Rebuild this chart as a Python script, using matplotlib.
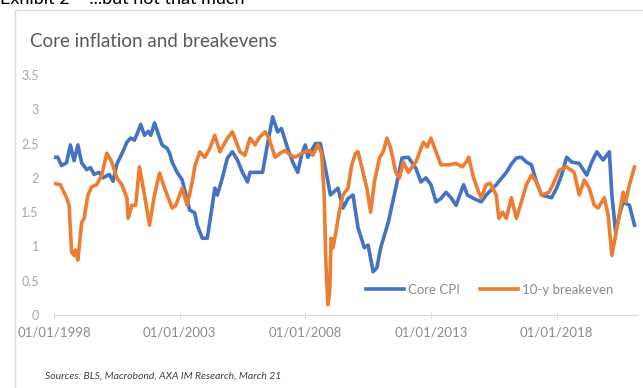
import matplotlib.pyplot as plt
from matplotlib.patches import Rectangle

plt.rcParams['font.family'] = ['Lato', 'DejaVu Sans']

# core CPI (decimal year, % y/y)
cpi_t = [1998.0, 1998.15, 1998.3, 1998.5, 1998.65, 1998.8, 1998.95, 1999.1, 1999.3, 1999.45,
         1999.6, 1999.8, 1999.95, 2000.2, 2000.35, 2000.5, 2000.7, 2000.9, 2001.05, 2001.2,
         2001.35, 2001.45, 2001.6, 2001.75, 2001.85, 2002.0, 2002.3, 2002.5, 2002.6, 2002.7,
         2002.9, 2003.1, 2003.25, 2003.4, 2003.6, 2003.7, 2003.9, 2004.1, 2004.3, 2004.4,
         2004.5, 2004.7, 2004.9, 2005.1, 2005.3, 2005.5, 2005.7, 2005.8, 2006.0, 2006.3,
         2006.5, 2006.7, 2006.9, 2007.05, 2007.3, 2007.5, 2007.7, 2007.85, 2008.0, 2008.1,
         2008.4, 2008.6, 2008.8, 2009.0, 2009.3, 2009.5, 2009.7, 2009.9, 2010.1, 2010.35,
         2010.5, 2010.7, 2010.85, 2011.0, 2011.3, 2011.6, 2011.85, 2012.1, 2012.4, 2012.6,
         2012.8, 2013.0, 2013.2, 2013.4, 2013.6, 2013.8, 2014.0, 2014.3, 2014.45, 2014.7,
         2015.0, 2015.2, 2015.6, 2016.0, 2016.2, 2016.4, 2016.6, 2016.8, 2017.0, 2017.2,
         2017.4, 2017.8, 2018.0, 2018.2, 2018.4, 2018.6, 2018.9, 2019.2, 2019.4, 2019.6,
         2019.85, 2020.1, 2020.2, 2020.35, 2020.5, 2020.65, 2020.9, 2021.1]
cpi_v = [2.30, 2.30, 2.18, 2.22, 2.48, 2.25, 2.48, 2.22, 2.12, 2.15,
         2.05, 2.08, 2.00, 2.05, 1.95, 2.20, 2.35, 2.52, 2.58, 2.55,
         2.68, 2.78, 2.62, 2.68, 2.62, 2.80, 2.48, 2.43, 2.36, 2.23,
         2.08, 1.97, 1.75, 1.53, 1.49, 1.31, 1.12, 1.12, 1.60, 1.85,
         1.75, 2.00, 2.29, 2.38, 2.26, 2.08, 1.94, 2.08, 2.08, 2.08,
         2.50, 2.89, 2.67, 2.72, 2.43, 2.23, 2.08, 2.33, 2.48, 2.30,
         2.50, 2.50, 2.14, 1.75, 1.85, 1.56, 1.70, 1.75, 1.27, 0.98,
         1.02, 0.63, 0.69, 0.98, 1.35, 1.85, 2.29, 2.30, 2.14, 1.94,
         2.00, 1.90, 1.65, 1.70, 1.79, 1.71, 1.60, 1.90, 1.75, 1.70,
         1.65, 1.75, 1.90, 2.08, 2.20, 2.29, 2.30, 2.23, 2.19, 1.94,
         1.75, 1.71, 1.85, 2.04, 2.30, 2.23, 2.21, 2.04, 2.23, 2.38,
         2.26, 2.38, 1.75, 1.21, 1.46, 1.65, 1.60, 1.31]

# 10-y breakeven
bei_t = [1998.0, 1998.25, 1998.5, 1998.6, 1998.7, 1998.8, 1998.85, 1998.95, 1999.1, 1999.2,
         1999.35, 1999.5, 1999.7, 1999.9, 2000.1, 2000.3, 2000.5, 2000.7, 2000.9, 2000.95,
         2001.1, 2001.25, 2001.4, 2001.6, 2001.8, 2002.0, 2002.2, 2002.4, 2002.7, 2002.85,
         2003.1, 2003.3, 2003.5, 2003.6, 2003.8, 2004.0, 2004.2, 2004.4, 2004.6, 2004.9,
         2005.1, 2005.4, 2005.6, 2005.8, 2006.0, 2006.15, 2006.4, 2006.55, 2006.8, 2007.0,
         2007.2, 2007.4, 2007.6, 2007.85, 2008.15, 2008.3, 2008.5, 2008.65, 2008.75, 2008.82,
         2008.9, 2008.97, 2009.03, 2009.1, 2009.2, 2009.35, 2009.5, 2009.7, 2009.85, 2010.0,
         2010.1, 2010.3, 2010.45, 2010.6, 2010.75, 2010.95, 2011.1, 2011.25, 2011.4, 2011.6,
         2011.75, 2011.9, 2012.1, 2012.4, 2012.7, 2012.85, 2013.0, 2013.15, 2013.4, 2013.7,
         2014.0, 2014.25, 2014.4, 2014.5, 2014.7, 2014.9, 2015.0, 2015.2, 2015.35, 2015.6,
         2015.7, 2015.85, 2016.0, 2016.2, 2016.4, 2016.6, 2016.8, 2017.0, 2017.2, 2017.4,
         2017.7, 2017.9, 2018.1, 2018.4, 2018.7, 2018.9, 2019.1, 2019.3, 2019.5, 2019.65,
         2019.9, 2020.05, 2020.2, 2020.35, 2020.5, 2020.65, 2020.75, 2020.9, 2021.1]
bei_v = [1.92, 1.90, 1.71, 1.60, 0.92, 0.87, 0.95, 0.80, 1.35, 1.41,
         1.75, 1.87, 1.90, 2.04, 2.36, 2.23, 2.00, 1.90, 1.71, 1.41,
         1.60, 1.60, 2.16, 1.75, 1.31, 1.75, 2.07, 1.85, 1.56, 1.60,
         1.85, 1.60, 1.94, 2.16, 2.38, 2.30, 2.43, 2.62, 2.38, 2.58,
         2.67, 2.38, 2.33, 2.58, 2.48, 2.58, 2.67, 2.58, 2.30, 2.36,
         2.40, 2.33, 2.30, 2.36, 2.40, 2.33, 2.48, 2.36, 1.75, 0.77,
         0.15, 0.34, 1.12, 0.98, 1.17, 1.50, 1.75, 1.85, 2.19, 2.36,
         2.38, 2.08, 1.85, 1.50, 1.94, 2.29, 2.38, 2.58, 2.43, 2.08,
         2.00, 2.23, 2.08, 2.23, 2.52, 2.45, 2.58, 2.43, 2.19, 2.19,
         2.21, 2.16, 2.23, 2.30, 2.00, 1.79, 1.71, 1.90, 1.92, 1.75,
         1.41, 1.50, 1.41, 1.71, 1.41, 1.65, 1.90, 2.04, 1.94, 1.75,
         1.79, 1.94, 2.11, 2.16, 2.08, 1.75, 1.97, 1.85, 1.60, 1.56,
         1.71, 1.46, 0.87, 1.17, 1.46, 1.79, 1.65, 1.90, 2.16]

tick_years = [1998, 2003, 2008, 2013, 2018]
tick_labels = ['01/01/1998', '01/01/2003', '01/01/2008', '01/01/2013', '01/01/2018']
ytick_vals = [0, 0.5, 1, 1.5, 2, 2.5, 3, 3.5]
ytick_labels = ['0', '0.5', '1', '1.5', '2', '2.5', '3', '3.5']

fig = plt.figure(figsize=(6.43, 3.88), dpi=100)
fig.patches.append(Rectangle((15 / 643, -0.1), 1.0, 1 - 10 / 388 + 0.1,
                             transform=fig.transFigure, fill=False,
                             edgecolor='#d9d9d9', linewidth=1))

ax = fig.add_axes([54 / 643, 73 / 388, 583 / 643, 240 / 388])
ax.plot(cpi_t, cpi_v, color='#4472C4', lw=2.6, label='Core CPI', solid_joinstyle='round')
ax.plot(bei_t, bei_v, color='#ED7D31', lw=2.6, label='10-y breakeven', solid_joinstyle='round')

ax.set_xlim(1998, 2021.2)
ax.set_ylim(0, 3.5)
ax.set_xticks(tick_years)
ax.set_xticklabels(tick_labels)
ax.set_yticks(ytick_vals)
ax.set_yticklabels(ytick_labels)
for s in ['top', 'right', 'left']:
    ax.spines[s].set_visible(False)
ax.spines['bottom'].set_color('#d9d9d9')
ax.tick_params(axis='x', colors='#d9d9d9', labelcolor='#8c8c8c', labelsize=9.5,
               length=4, direction='inout', pad=6)
ax.tick_params(axis='y', length=0, labelcolor='#a6a6a6', labelsize=9, pad=11)

ax.legend(loc='center left', bbox_to_anchor=(0.535, 0.104), ncol=2, frameon=False,
          borderaxespad=0, borderpad=0, handlelength=2.9, handletextpad=0.3,
          columnspacing=1.5, labelcolor='#8c8c8c', fontsize=9.5)

fig.text(30 / 643, 1 - 47 / 388, 'Core inflation and breakevens', fontsize=13.5,
         color='#595959', va='baseline')
fig.text(45 / 643, 1 - 379 / 388, 'Sources: BLS, Macrobond, AXA IM Research, March 21',
         fontsize=7.5, style='italic', color='#404040', va='baseline')
fig.text(0, 1 - 4 / 388, 'Exhibit 2 \u2013 ...but not that much', fontsize=13,
         color='black', va='baseline')

fig.savefig('out.png', dpi=100)
